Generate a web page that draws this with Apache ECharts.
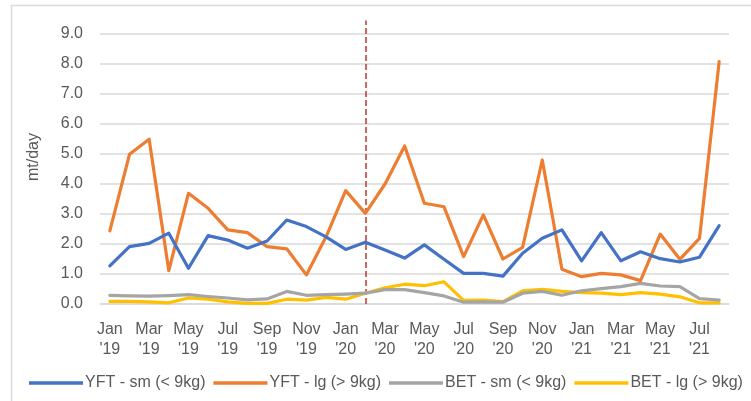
<!DOCTYPE html>
<html>
<head>
<meta charset="utf-8">
<script src="https://cdn.jsdelivr.net/npm/echarts@6/dist/echarts.min.js"></script>
<style>
html,body{margin:0;padding:0;background:#fff;}
#c{width:751px;height:401px;}
</style>
</head>
<body>
<div id="c"></div>
<script>
var months = ["Jan","Feb","Mar","Apr","May","Jun","Jul","Aug","Sep","Oct","Nov","Dec",
              "Jan","Feb","Mar","Apr","May","Jun","Jul","Aug","Sep","Oct","Nov","Dec",
              "Jan","Feb","Mar","Apr","May","Jun","Jul","Aug"];
var years = ["'19","'19","'19","'19","'19","'19","'19","'19","'19","'19","'19","'19",
             "'20","'20","'20","'20","'20","'20","'20","'20","'20","'20","'20","'20",
             "'21","'21","'21","'21","'21","'21","'21","'21"];
var seriesNames = ["YFT - sm (< 9kg)","YFT - lg (> 9kg)","BET - sm (< 9kg)","BET - lg (> 9kg)"];
var yftSm = [1.27,1.91,2.02,2.36,1.19,2.28,2.13,1.86,2.10,2.80,2.58,2.24,1.82,2.06,1.80,1.53,
             1.97,1.49,1.02,1.02,0.93,1.69,2.19,2.47,1.44,2.38,1.44,1.74,1.51,1.40,1.56,2.61];
var yftLg = [2.44,4.99,5.49,1.11,3.69,3.19,2.47,2.38,1.91,1.84,0.97,2.24,3.78,3.02,4.00,5.27,
             3.36,3.24,1.58,2.97,1.50,1.89,4.80,1.16,0.91,1.02,0.97,0.78,2.33,1.49,2.19,8.08];
var betSm = [0.29,0.27,0.26,0.28,0.31,0.25,0.20,0.14,0.17,0.42,0.29,0.31,0.33,0.36,0.48,0.48,
             0.38,0.27,0.06,0.07,0.06,0.36,0.42,0.29,0.44,0.51,0.58,0.69,0.60,0.58,0.18,0.13];
var betLg = [0.09,0.09,0.07,0.04,0.20,0.16,0.07,0.02,0.02,0.16,0.13,0.22,0.16,0.36,0.54,0.66,
             0.61,0.74,0.12,0.13,0.08,0.44,0.49,0.42,0.38,0.36,0.31,0.38,0.33,0.24,0.04,0.04];
var colors = ["#4472C4","#ED7D31","#A5A5A5","#FFC000"];
var markerIndex = 13;
var yAxisName = "mt/day";

var categories = months.map(function(m,i){ return m + "\n" + years[i]; });
var values = [yftSm, yftLg, betSm, betLg];
var font = "Liberation Sans";
var textColor = "#595959";

var chart = echarts.init(document.getElementById('c'));
var series = values.map(function(v, i){
  var s = {
    name: seriesNames[i],
    type: 'line',
    data: v,
    symbol: 'none',
    smooth: false,
    z: 10 - i,
    lineStyle: { color: colors[i], width: 3.2, cap: 'round', join: 'round' },
    itemStyle: { color: colors[i] }
  };
  if (i === 0) {
    s.markLine = {
      symbol: ['none','none'],
      silent: true,
      label: { show: false },
      lineStyle: { color: '#C0392B', type: [6,3], width: 1.5 },
      data: [{ xAxis: markerIndex }],
      animation: false
    };
  }
  return s;
});

chart.setOption({
  animation: false,
  color: colors,
  grid: { left: 100, right: 22, top: 20.5, bottom: 97, containLabel: false },
  graphic: [
    { type: 'rect', shape: { x: 11.5, y: 5.5, width: 900, height: 600 },
      style: { fill: 'none', stroke: '#D9D9D9', lineWidth: 1.5 }, silent: true },
    { type: 'text', x: 34, y: 157, rotation: Math.PI/2,
      style: { text: yAxisName, font: '16px "' + font + '"', fill: textColor,
               textAlign: 'center', textVerticalAlign: 'middle' } }
  ],
  legend: {
    left: 24, top: 370,
    icon: 'rect', itemWidth: 54, itemHeight: 3.5, itemGap: 8,
    textStyle: { fontFamily: font, fontSize: 16, color: textColor, padding: [0,0,0,-3] },
    data: seriesNames
  },
  xAxis: {
    type: 'category',
    data: categories,
    boundaryGap: true,
    axisLine: { show: true, lineStyle: { color: '#D9D9D9', width: 1.5 } },
    axisTick: { show: false },
    axisLabel: { interval: 1, margin: 16, fontFamily: font, fontSize: 16, color: textColor, lineHeight: 20 },
    splitLine: { show: false }
  },
  yAxis: {
    type: 'value',
    min: 0, max: 9.45, interval: 1,
    axisLine: { show: false },
    axisTick: { show: false },
    axisLabel: { margin: 17, fontFamily: font, fontSize: 16, color: textColor,
                 showMaxLabel: false,
                 formatter: function(v){ return v.toFixed(1); } },
    splitLine: { show: true, showMaxLine: false, lineStyle: { color: '#D9D9D9', width: 1.5 } }
  },
  series: series
});
</script>
</body>
</html>
